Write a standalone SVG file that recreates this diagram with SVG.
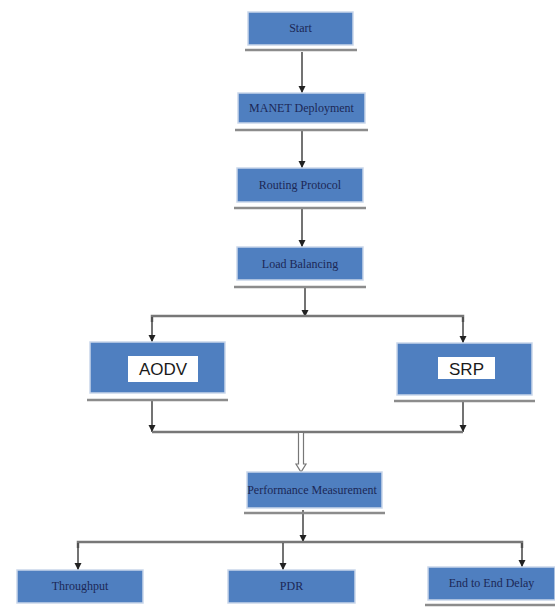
<svg xmlns="http://www.w3.org/2000/svg" width="555" height="608" viewBox="0 0 555 608">
<style>
.box{fill:#4f7fc0;stroke:#c9d6ea;stroke-width:1.5}
.sh{stroke:#8c8c8c;stroke-width:2.5;fill:none}
.t{font-family:"Liberation Serif",serif;font-size:12px;fill:#1c2856;text-anchor:middle}
.lbl{fill:#ffffff}
.s{font-family:"Liberation Sans",sans-serif;font-size:17px;fill:#1a1a1a;text-anchor:middle}
.c{stroke:#444;stroke-width:1.5;fill:none}
.c2{stroke:#777;stroke-width:2.5;fill:none}
</style>
<defs>
<marker id="ah" markerWidth="8" markerHeight="8" refX="7" refY="4" orient="auto" markerUnits="userSpaceOnUse">
<path d="M0,0.5 L7,4 L0,7.5 Z" fill="#222"/>
</marker>
</defs>
<rect width="555" height="608" fill="#ffffff"/>
<g id="connectors">
<line class="c" x1="302" y1="52" x2="302" y2="93" marker-end="url(#ah)"/>
<line class="c" x1="302" y1="131" x2="302" y2="168" marker-end="url(#ah)"/>
<line class="c" x1="302" y1="209" x2="302" y2="247" marker-end="url(#ah)"/>
<line class="c" x1="305" y1="288" x2="305" y2="317" marker-end="url(#ah)"/>
<polyline class="c2" points="152,322 152,316 463,316 463,322"/>
<line class="c" x1="152" y1="317" x2="152" y2="342" marker-end="url(#ah)"/>
<line class="c" x1="463" y1="317" x2="463" y2="343" marker-end="url(#ah)"/>
<line class="c" x1="152" y1="401" x2="152" y2="432" marker-end="url(#ah)"/>
<line class="c" x1="463" y1="402" x2="463" y2="432" marker-end="url(#ah)"/>
<line class="c2" x1="152" y1="432" x2="463" y2="432"/>
<path d="M298.5,433 L298.5,464 L296,464 L301,472 L306,464 L303.5,464 L303.5,433" fill="#ffffff" stroke="#777" stroke-width="1.2"/>
<line class="c" x1="303" y1="510" x2="303" y2="542" marker-end="url(#ah)"/>
<polyline class="c2" points="78,548 78,542 522,542 522,548"/>
<line class="c" x1="78" y1="543" x2="78" y2="570" marker-end="url(#ah)"/>
<line class="c" x1="283" y1="543" x2="283" y2="570" marker-end="url(#ah)"/>
<line class="c" x1="522" y1="543" x2="522" y2="567" marker-end="url(#ah)"/>
</g>
<g id="start">
<line class="sh" x1="245" y1="50" x2="357" y2="50"/>
<rect class="box" x="248" y="12" width="105" height="33"/>
<text class="t" x="300.5" y="32">Start</text>
</g>
<g id="manet">
<line class="sh" x1="235" y1="130" x2="368" y2="130"/>
<rect class="box" x="238" y="93" width="127" height="30"/>
<text class="t" x="301.5" y="112">MANET Deployment</text>
</g>
<g id="routing">
<line class="sh" x1="234" y1="208" x2="366" y2="208"/>
<rect class="box" x="237" y="168" width="126" height="34"/>
<text class="t" x="300" y="189">Routing Protocol</text>
</g>
<g id="load">
<line class="sh" x1="234" y1="287" x2="366" y2="287"/>
<rect class="box" x="237" y="247" width="126" height="33"/>
<text class="t" x="300" y="268">Load Balancing</text>
</g>
<g id="aodv">
<line class="sh" x1="87" y1="400" x2="228" y2="400"/>
<rect class="box" x="90" y="342" width="135" height="51"/>
<rect class="lbl" x="128" y="356" width="70" height="26"/>
<text class="s" x="163" y="375">AODV</text>
</g>
<g id="srp">
<line class="sh" x1="394" y1="401" x2="535" y2="401"/>
<rect class="box" x="397" y="343" width="135" height="52"/>
<rect class="lbl" x="438" y="357" width="57" height="22"/>
<text class="s" x="466.5" y="375">SRP</text>
</g>
<g id="performance">
<line class="sh" x1="244" y1="513" x2="385" y2="513"/>
<rect class="box" x="247" y="472" width="135" height="36"/>
<text class="t" x="312" y="494">Performance Measurement</text>
</g>
<g id="throughput">
<rect class="box" x="17" y="570" width="126" height="33"/>
<text class="t" x="80" y="590">Throughput</text>
</g>
<g id="pdr">
<rect class="box" x="228" y="570" width="127" height="33"/>
<text class="t" x="291.5" y="590">PDR</text>
</g>
<g id="e2e">
<line class="sh" x1="425" y1="605" x2="555" y2="605"/>
<rect class="box" x="428" y="567" width="127" height="33"/>
<text class="t" x="491.5" y="587">End to End Delay</text>
</g>
</svg>
